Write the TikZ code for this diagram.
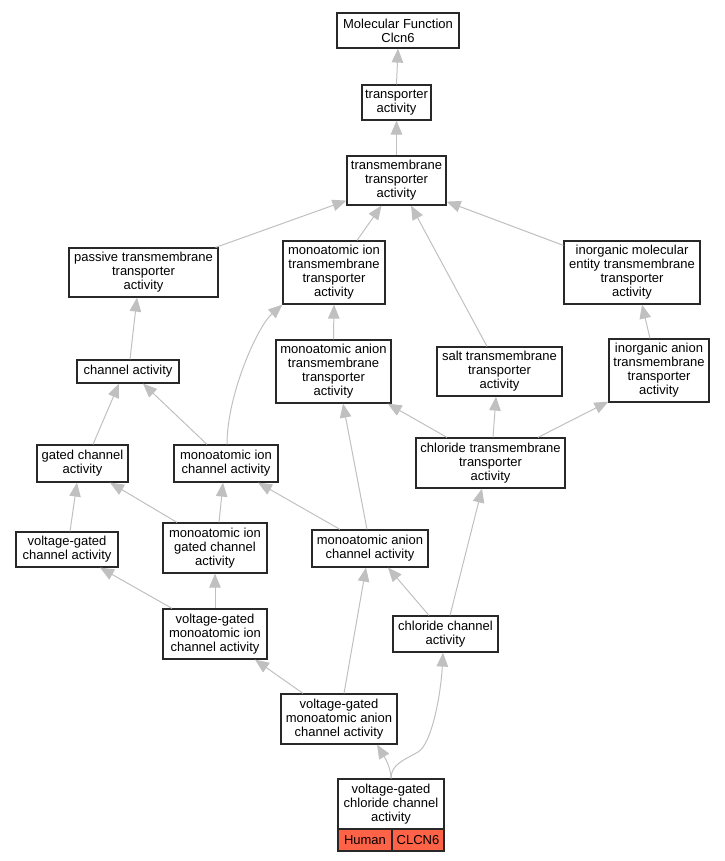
\documentclass[tikz,border=0pt]{standalone}
\usepackage{fontspec}
\setmainfont{Liberation Sans}
\usetikzlibrary{arrows.meta}
\definecolor{edgegray}{RGB}{192,192,192}
\definecolor{boxline}{RGB}{40,40,40}
\definecolor{tomatored}{RGB}{255,99,71}
\newcommand{\gonode}[6]{\node[gobox, minimum width={(#4-#2)*1pt}, minimum height={(#5-#3)*1pt}] (#1) at ({(#2+#4)/2},{(#3+#5)/2}) {#6};}
\tikzset{
  gobox/.style={draw=boxline, line width=1.2pt, fill=white, align=center, inner sep=0pt, font=\fontsize{13}{14}\selectfont},
  redbox/.style={gobox, fill=tomatored},
  isa/.style={draw=edgegray, line width=1pt, -{Triangle[length=14pt,width=11.5pt,fill=edgegray]}}
}
\begin{document}
\begin{tikzpicture}[x=1pt,y=-1pt]
\useasboundingbox (0,0) rectangle (724,861);
\gonode{mf}{337}{13}{459}{48}{Molecular Function\\Clcn6}
\gonode{ta}{362}{85}{431}{120}{transporter\\activity}
\gonode{tmt}{347}{156}{446}{205}{transmembrane\\transporter\\activity}
\gonode{pass}{69}{248}{218}{297}{passive transmembrane\\transporter\\activity}
\gonode{mit}{283}{241}{385}{304}{monoatomic ion\\transmembrane\\transporter\\activity}
\gonode{imt}{564}{241}{700}{304}{inorganic molecular\\entity transmembrane\\transporter\\activity}
\gonode{ch}{77}{360}{179}{383}{channel activity}
\gonode{mat}{276}{340}{391}{403}{monoatomic anion\\transmembrane\\transporter\\activity}
\gonode{salt}{437}{347}{562}{396}{salt transmembrane\\transporter\\activity}
\gonode{iat}{609}{339}{709}{402}{inorganic anion\\transmembrane\\transporter\\activity}
\gonode{gch}{37}{445}{128}{482}{gated channel\\activity}
\gonode{mic}{174}{445}{278}{482}{monoatomic ion\\channel activity}
\gonode{cltm}{416}{438}{565}{488}{chloride transmembrane\\transporter\\activity}
\gonode{vgch}{16}{532}{118}{567}{voltage-gated\\channel activity}
\gonode{migc}{163}{523}{267}{573}{monoatomic ion\\gated channel\\activity}
\gonode{mac}{312}{530}{428}{567}{monoatomic anion\\channel activity}
\gonode{vgmic}{163}{609}{267}{659}{voltage-gated\\monoatomic ion\\channel activity}
\gonode{clch}{393}{616}{498}{652}{chloride channel\\activity}
\gonode{vgmac}{281}{694}{397}{744}{voltage-gated\\monoatomic anion\\channel activity}
\gonode{vgcl}{338}{779}{444}{829}{voltage-gated\\chloride channel\\activity}
\node[redbox, minimum width=54pt, minimum height=22pt] (human) at (365,840) {Human};
\node[redbox, minimum width=52pt, minimum height=22pt] (clcn) at (418,840) {CLCN6};
% edges
\draw[isa] (ta.north) -- (mf.south);
\draw[isa] (tmt.north) -- (ta.south);
\draw[isa] ([xshift=-3pt]pass.north east) -- ([yshift=5pt]tmt.south west);
\draw[isa] ([xshift=23pt]mit.north) -- ([xshift=-15pt]tmt.south);
\draw[isa] ([xshift=-12.5pt]salt.north) -- ([xshift=14.5pt]tmt.south);
\draw[isa] ([yshift=-5pt]imt.north west) -- ([yshift=4pt]tmt.south east);
\draw[isa] ([xshift=2pt]ch.north) -- ([xshift=-6.5pt]pass.south);
\draw[isa] (mat.north) -- (mit.south);
\draw[isa] ([xshift=-9pt]iat.north) -- ([xshift=10pt]imt.south);
\draw[isa] ([xshift=10.5pt]gch.north) -- ([xshift=-9pt]ch.south);
\draw[isa] ([xshift=-19pt]mic.north) -- ([xshift=15pt]ch.south);
\draw[isa] ([xshift=1pt]mic.north) .. controls +(0,-50) and +(-25,22) .. (mit.south west);
\draw[isa] ([xshift=-43.5pt]cltm.north) -- ([xshift=-4pt]mat.south east);
\draw[isa] ([xshift=2.5pt]cltm.north) -- ([xshift=-3.5pt]salt.south);
\draw[isa] ([xshift=47.5pt]cltm.north) -- ([yshift=1pt]iat.south west);
\draw[isa] ([xshift=3pt]vgch.north) -- ([xshift=-5.5pt]gch.south);
\draw[isa] ([xshift=-38pt]migc.north) -- ([xshift=27.5pt]gch.south);
\draw[isa] ([xshift=4pt]migc.north) -- ([xshift=-3pt]mic.south);
\draw[isa] ([xshift=-30pt]mac.north) -- ([xshift=32pt]mic.south);
\draw[isa] ([xshift=-3pt]mac.north) -- ([xshift=9.5pt]mat.south);
\draw[isa] ([xshift=-43pt]vgmic.north) -- ([xshift=33pt]vgch.south);
\draw[isa] (vgmic.north) -- (migc.south);
\draw[isa] ([xshift=-16.5pt]clch.north) -- ([xshift=18pt]mac.south);
\draw[isa] ([xshift=4.5pt]clch.north) -- ([xshift=-8.5pt]cltm.south);
\draw[isa] ([xshift=-36pt]vgmac.north) -- ([xshift=40pt]vgmic.south);
\draw[isa] ([xshift=5pt]vgmac.north) -- ([xshift=-4pt]mac.south);
\draw[isa] (vgcl.north) .. controls +(0,-12) and +(6,10) .. ([xshift=38pt]vgmac.south);
\draw[isa] (vgcl.north) .. controls +(0,-14) and +(-14,8) .. (418,752) .. controls +(14,-8) and +(-2,40) .. ([xshift=-2.5pt]clch.south);
\end{tikzpicture}
\end{document}
